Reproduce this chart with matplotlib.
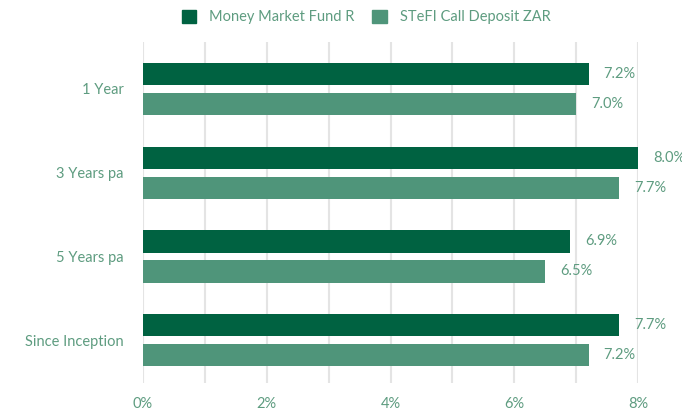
import numpy as np
import matplotlib.pyplot as plt
from matplotlib.patches import Patch

# categorii si valori (in %)
categorii = ['1 Year', '3 Years pa', '5 Years pa', 'Since Inception']
fond = [7.2, 8.0, 6.9, 7.7]
stefi = [7.0, 7.7, 6.5, 7.2]
serii = ['Money Market Fund R', 'STeFI Call Deposit ZAR']

culoare_fond = '#006241'
culoare_stefi = '#4f957a'
culoare_text = '#5e9c80'

plt.rcParams['font.family'] = ['Lato', 'DejaVu Sans']

fig = plt.figure(figsize=(6.82, 4.12), dpi=100)
ax = fig.add_axes([143 / 682, 1 - 383 / 412, (638 - 143) / 682, (383 - 42) / 412])

y = np.arange(len(categorii))
h = 0.263
off = 0.179

ax.barh(y - off, fond, height=h, color=culoare_fond, zorder=3)
ax.barh(y + off, stefi, height=h, color=culoare_stefi, zorder=3)

for yi, v in zip(y - off, fond):
    ax.annotate(f'{v:.1f}%', (v, yi), xytext=(15, 0), textcoords='offset pixels',
                va='center', ha='left', color=culoare_text, fontsize=10.5, annotation_clip=False)
for yi, v in zip(y + off, stefi):
    ax.annotate(f'{v:.1f}%', (v, yi), xytext=(15, 0), textcoords='offset pixels',
                va='center', ha='left', color=culoare_text, fontsize=10.5, annotation_clip=False)

ax.set_xlim(0, 8)
ax.set_ylim(3.51, -0.56)
ax.set_xticks(np.arange(0, 9, 2))
ax.set_xticklabels([f'{int(t)}%' for t in np.arange(0, 9, 2)])
ax.set_yticks(y)
ax.set_yticklabels(categorii)

for xv in np.arange(0, 9, 1):
    ax.axvline(xv, color='#e4e4e4', linewidth=1.5, zorder=1)

for s in ax.spines.values():
    s.set_visible(False)
ax.tick_params(axis='both', which='both', length=0, colors=culoare_text, labelsize=10.5)
ax.tick_params(axis='y', pad=14)
ax.tick_params(axis='x', pad=10)

handles = [Patch(color=culoare_fond), Patch(color=culoare_stefi)]
leg = fig.legend(handles, serii, loc='center', bbox_to_anchor=(0.537, 1 - 17 / 412), ncol=2,
                 frameon=False, fontsize=10.5, handlelength=1.0, handleheight=1.0,
                 handletextpad=0.9, columnspacing=1.2)
for t in leg.get_texts():
    t.set_color(culoare_text)

fig.savefig('out.png', dpi=100)
